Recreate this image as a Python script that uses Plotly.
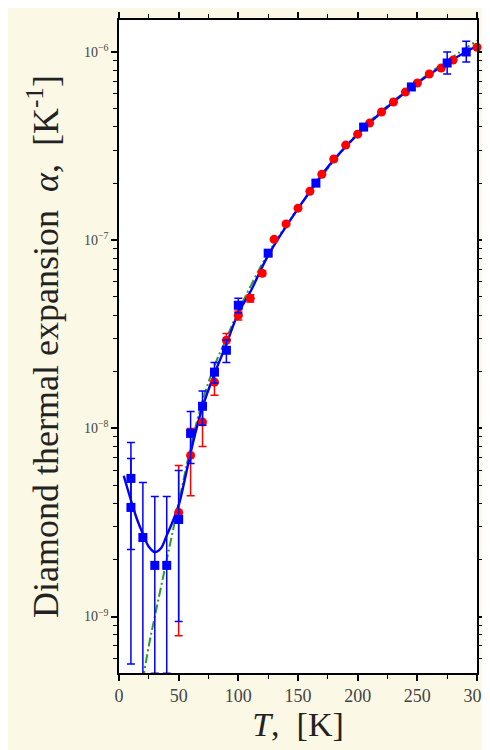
import plotly.graph_objects as go

# ---- data ----
T_blue = [10, 10, 20, 30, 40, 50, 60, 70, 80, 90, 100, 125, 165, 205, 245, 275, 291]
alpha_blue = [5.42e-9, 3.80e-9, 2.63e-9, 1.87e-9, 1.87e-9, 3.28e-9, 9.4e-9, 1.31e-8,
              1.99e-8, 2.60e-8, 4.51e-8, 8.53e-8, 2.01e-7, 3.99e-7, 6.52e-7, 8.74e-7, 1.0e-6]
err_blue_plus = [3.0e-9, 3.12e-9, 2.53e-9, 2.48e-9, 2.48e-9, 2.7e-9, 2.9e-9, 2.7e-9,
                 2.5e-9, 3.5e-9, 4.0e-9, 2.5e-9, 6e-9, 1.2e-8, 2e-8, 1.26e-7, 1.4e-7]
# lower bars of the 30 K and 40 K points run down to the bottom of the axis
err_blue_minus = [3.15e-9, 3.24e-9, 2.33e-9, 1.37e-9, 1.37e-9, 2.34e-9, 2.9e-9, 2.7e-9,
                  2.5e-9, 3.6e-9, 4.0e-9, 2.5e-9, 6e-9, 1.2e-8, 2e-8, 1.1e-7, 1.15e-7]

T_red = [50, 60, 70, 80, 90, 100, 110, 120, 130, 140, 150, 160, 170, 180, 190, 200,
         210, 220, 230, 240, 250, 260, 270, 280, 300]
alpha_red = [3.57e-9, 7.18e-9, 1.08e-8, 1.76e-8, 2.94e-8, 3.99e-8, 4.91e-8, 6.67e-8,
             1.01e-7, 1.22e-7, 1.48e-7, 1.82e-7, 2.24e-7, 2.70e-7, 3.20e-7, 3.66e-7,
             4.19e-7, 4.80e-7, 5.42e-7, 6.12e-7, 6.84e-7, 7.64e-7, 8.22e-7, 9.06e-7, 1.06e-6]
err_red = [2.78e-9, 2.8e-9, 2.8e-9, 2.6e-9, 2.5e-9, 2.2e-9, 2.2e-9, 2e-9,
           2e-9, 2e-9, 2e-9, 2e-9, 2e-9, 2e-9, 2e-9, 2e-9,
           2e-9, 2e-9, 2e-9, 2e-9, 2e-9, 2e-9, 2e-9, 2e-9, 2e-9]

T_fit = [4, 10, 15, 20, 25, 30, 35, 40, 45, 50, 55, 60, 65, 70, 80, 90, 100, 110,
         125, 150, 175, 200, 225, 250, 275, 300]
alpha_fit = [5.6e-9, 4.15e-9, 3.3e-9, 2.75e-9, 2.35e-9, 2.2e-9, 2.3e-9, 2.7e-9, 3.2e-9,
             3.9e-9, 5.3e-9, 7.4e-9, 1.0e-8, 1.3e-8, 1.95e-8, 2.8e-8, 4.1e-8, 5.3e-8,
             8.3e-8, 1.47e-7, 2.45e-7, 3.65e-7, 5.1e-7, 6.85e-7, 8.75e-7, 1.08e-6]

T_green = [20, 25, 30, 40, 50, 60, 70, 80, 90, 100, 125, 150, 200, 250, 300]
alpha_green = [4.6e-10, 7e-10, 1.0e-9, 2.0e-9, 4.0e-9, 7.9e-9, 1.4e-8, 2.15e-8, 3.0e-8,
               4.2e-8, 8.5e-8, 1.47e-7, 3.7e-7, 6.9e-7, 1.15e-6]

x_ticks = [0, 50, 100, 150, 200, 250, 300]
y_ticks = [1e-9, 1e-8, 1e-7, 1e-6]
y_ticklabels = ["10<sup>−9</sup>", "10<sup>−8</sup>", "10<sup>−7</sup>", "10<sup>−6</sup>"]

BLUE = "#0000FF"
RED = "#FF0000"
GREEN = "#2F9A2F"
FONT = "Liberation Serif"

fig = go.Figure()

fig.add_trace(go.Scatter(
    x=T_green, y=alpha_green, mode="lines", line_shape="spline",
    line=dict(color=GREEN, width=2, dash="9px,3px,2px,3px"),
    hoverinfo="skip"))

fig.add_trace(go.Scatter(
    x=T_fit, y=alpha_fit, mode="lines", line_shape="spline",
    line=dict(color=BLUE, width=2.4), hoverinfo="skip"))

fig.add_trace(go.Scatter(
    x=T_red, y=alpha_red, mode="markers", cliponaxis=False,
    marker=dict(symbol="circle", size=9, color=RED),
    error_y=dict(type="data", array=err_red, visible=True, color=RED,
                 thickness=1.5, width=4)))

fig.add_trace(go.Scatter(
    x=T_blue, y=alpha_blue, mode="markers", cliponaxis=False,
    marker=dict(symbol="square", size=9, color=BLUE),
    error_y=dict(type="data", symmetric=False, array=err_blue_plus,
                 arrayminus=err_blue_minus, visible=True, color=BLUE,
                 thickness=1.5, width=4)))

axis_common = dict(
    showline=True, linecolor="black", linewidth=1.5, mirror="ticks",
    ticks="outside", tickcolor="black", tickwidth=1.5, ticklen=6,
    showgrid=False, zeroline=False, automargin=False,
    ticklabeloverflow="allow",
)

fig.update_xaxes(
    range=[0, 300], tickvals=x_ticks,
    tickfont=dict(family=FONT, size=18, color="#444444"),
    minor=dict(ticks="outside", ticklen=4, tickwidth=1.2, tickcolor="black", dtick=25),
    title=dict(text="<i>T</i>,  [K]", font=dict(family=FONT, size=34, color="#222222"),
               standoff=0),
    **axis_common)

fig.update_yaxes(
    type="log", range=[-9.30, -5.83], tickvals=y_ticks, ticktext=y_ticklabels,
    tickfont=dict(family=FONT, size=14, color="#444444"),
    minor=dict(ticks="outside", ticklen=4, tickwidth=1.2, tickcolor="black",
               dtick="D1"),
    title=dict(text="Diamond thermal expansion  <i>α</i>,  [K<sup>-1</sup>]",
               font=dict(family=FONT, size=36, color="#222222"), standoff=14),
    **axis_common)

fig.update_layout(
    width=482, height=742,
    margin=dict(l=111, r=13, t=12, b=77),
    paper_bgcolor="#FBF9E6", plot_bgcolor="white",
    showlegend=False,
)

fig.write_html("out.html")
